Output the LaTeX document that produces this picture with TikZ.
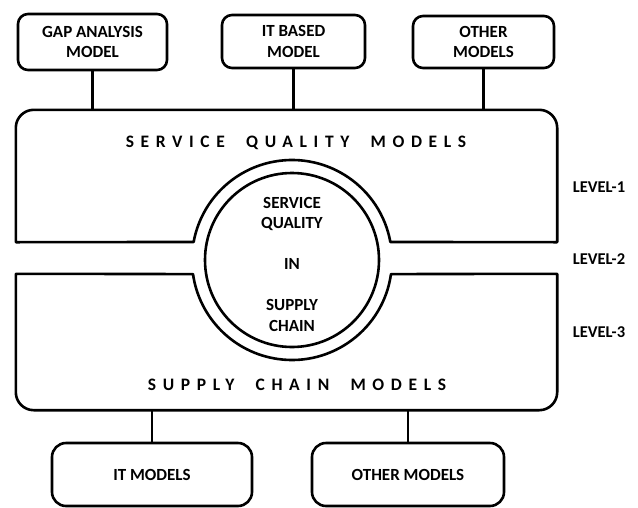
\documentclass[tikz,border=0pt]{standalone}
\usepackage{fontspec}
\setmainfont{Carlito}
\newfontfamily\spacedfont[LetterSpace=38,WordSpace=2]{Carlito}
\usetikzlibrary{positioning}

\tikzset{
    line/.style={line width=2.6pt, line join=round},
    modelbox/.style={line, draw, rounded corners=10pt, align=center,
        font=\fontsize{17}{20.5}\selectfont\bfseries, inner sep=0pt},
    title/.style={font=\spacedfont\fontsize{17.5}{18}\selectfont\bfseries},
    level/.style={font=\fontsize{16.5}{18}\selectfont\bfseries}
}

\begin{document}
\begin{tikzpicture}
    \useasboundingbox (0,0) rectangle (638pt,-507pt);
    \def\ro{100pt}
    % centre of the two rings
    \coordinate (cen) at (292pt,-260pt);

    % upper and lower frames
    \node[minimum width=541pt, minimum height=132pt, inner sep=0pt] (sqm) at (286.5pt,-176pt) {};
    \node[minimum width=541pt, minimum height=136pt, inner sep=0pt] (scm) at (286.5pt,-342pt) {};

    \draw[line] ([shift={(10.4:\ro)}]cen) arc[start angle=10.4, end angle=169.6, radius=\ro]
        -- (sqm.south west) -- ([yshift=-18pt]sqm.north west)
        arc[start angle=180, end angle=90, radius=18pt]
        -- ([xshift=-18pt]sqm.north east)
        arc[start angle=90, end angle=0, radius=18pt]
        -- (sqm.south east) -- cycle;
    \draw[line] ([shift={(-8.1:\ro)}]cen) arc[start angle=-8.1, end angle=-171.9, radius=\ro]
        -- (scm.north west) -- ([yshift=18pt]scm.south west)
        arc[start angle=180, end angle=270, radius=18pt]
        -- ([xshift=-18pt]scm.south east)
        arc[start angle=270, end angle=360, radius=18pt]
        -- (scm.north east) -- cycle;
    \draw[line] (cen) circle[radius=87pt];

    \node[title] at (296pt,-143pt) {SERVICE QUALITY MODELS};
    \node[title] at (297pt,-385pt) {SUPPLY CHAIN MODELS};

    \node[align=center, font=\fontsize{17}{20.5}\selectfont\bfseries] (core) at ([yshift=-4pt]cen)
        {SERVICE\\QUALITY\\[20.5pt]IN\\[20.5pt]SUPPLY\\CHAIN};

    % model boxes on top
    \node[modelbox, minimum width=149pt, minimum height=56pt] (gap) at (92.5pt,-42pt) {GAP ANALYSIS\\MODEL};
    \node[modelbox, minimum width=143pt, minimum height=53pt] (itb) at (293.5pt,-41.5pt) {IT BASED\\MODEL};
    \node[modelbox, minimum width=141pt, minimum height=52pt] (oth) at (483.5pt,-42pt) {OTHER\\MODELS};

    % model boxes below
    \node[modelbox, rounded corners=14pt, minimum width=200pt, minimum height=63pt] (itm) at (152pt,-474.5pt) {IT MODELS};
    \node[modelbox, rounded corners=14pt, minimum width=192pt, minimum height=63pt] (othm) at (408pt,-474.5pt) {OTHER MODELS};

    \draw[line] (gap.south) -- (gap.south |- sqm.north);
    \draw[line] (itb.south) -- (itb.south |- sqm.north);
    \draw[line] (oth.south) -- (oth.south |- sqm.north);
    \draw[line] (itm.north) -- (itm.north |- scm.south);
    \draw[line] (othm.north) -- (othm.north |- scm.south);

    \node[level] (l1) at (599pt,-187pt) {LEVEL-1};
    \node[level] (l2) at (599pt,-259pt) {LEVEL-2};
    \node[level] (l3) at (599pt,-332pt) {LEVEL-3};
\end{tikzpicture}
\end{document}
